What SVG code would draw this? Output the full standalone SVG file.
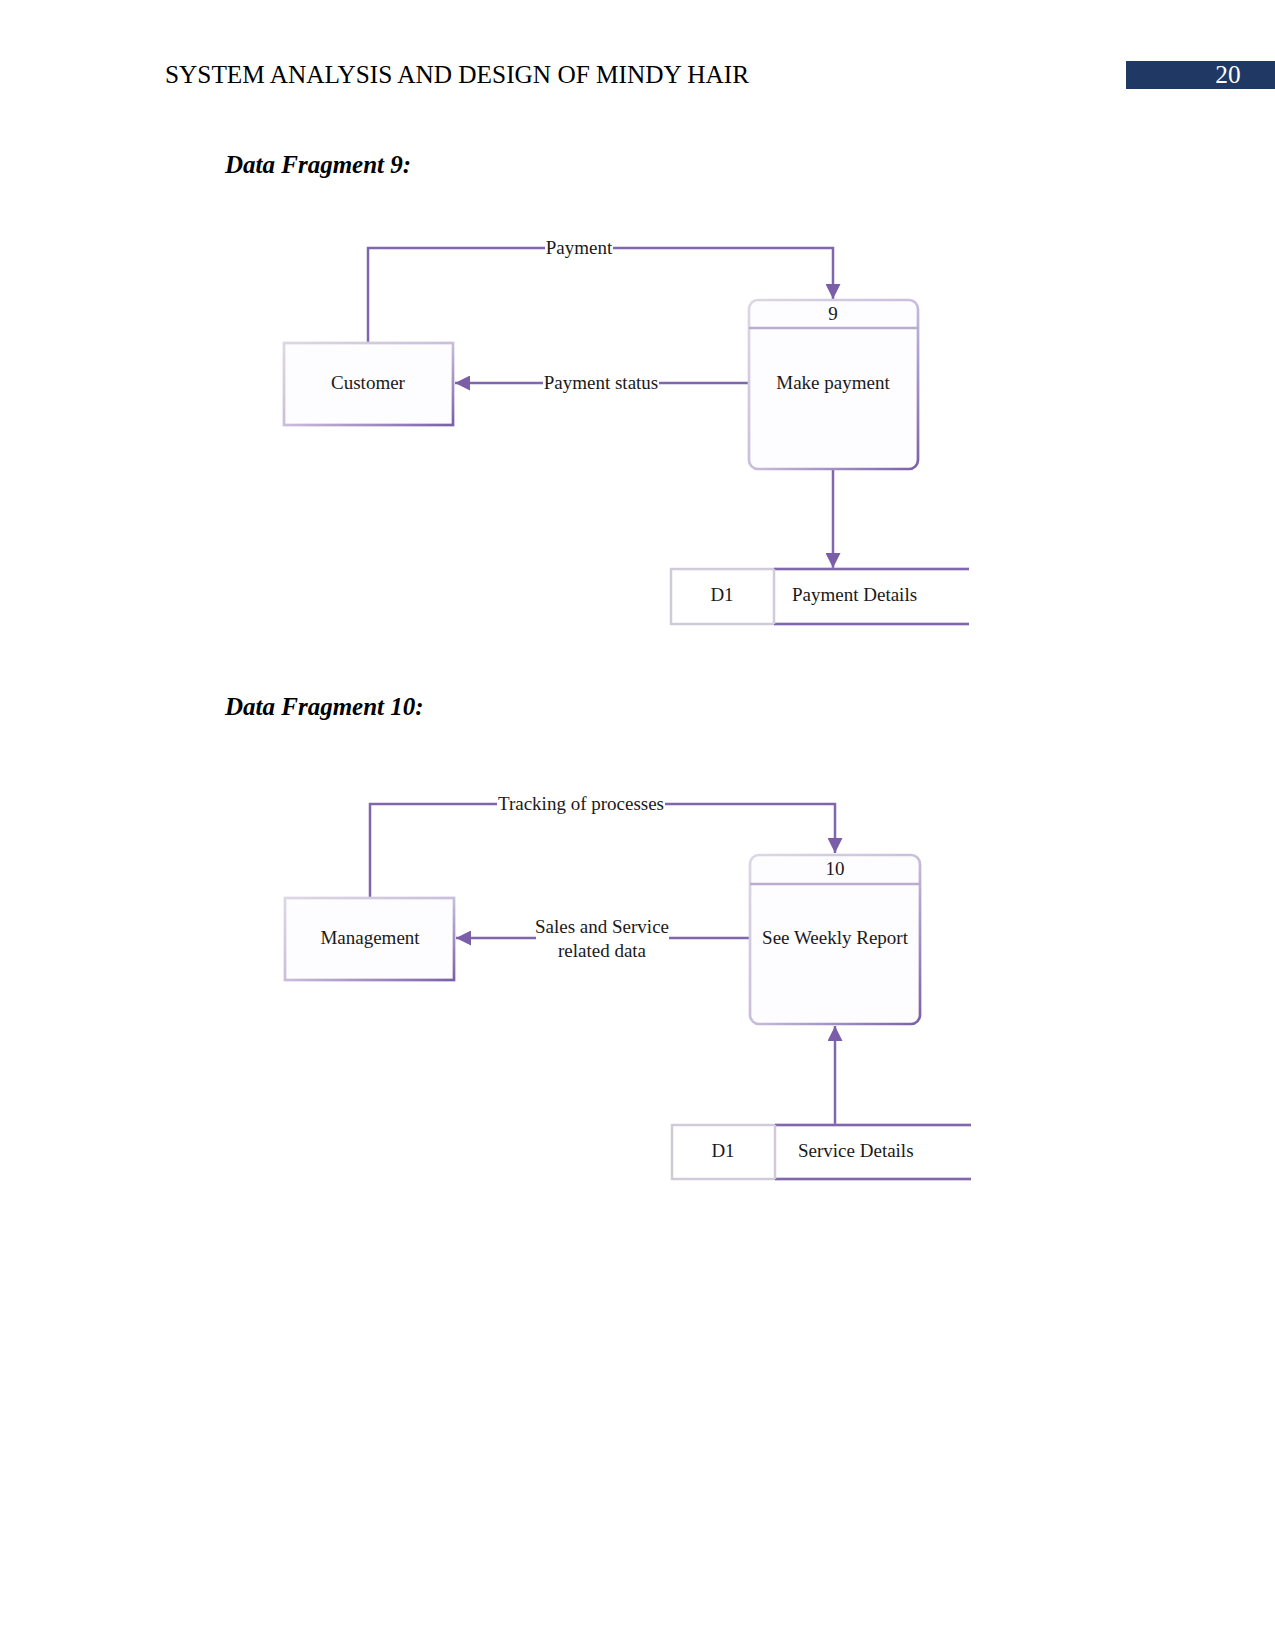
<svg xmlns="http://www.w3.org/2000/svg" width="1275" height="1650" viewBox="0 0 1275 1650">
<defs>
<style>
.hdr{font-family:"Liberation Serif","Times New Roman",serif;font-size:25.3px;fill:#000}
.ttl{font-family:"Liberation Serif","Times New Roman",serif;font-size:25px;font-weight:bold;font-style:italic;fill:#000}
.t{font-family:"Liberation Serif","Times New Roman",serif;font-size:19px;fill:#1a1a1a}
.lbl{font-family:"Liberation Serif","Times New Roman",serif;font-size:19px;fill:#1a1a1a}
.box{fill:#fdfcfe;stroke:url(#edge);stroke-width:2.7}
.ln{fill:none;stroke:#8066ad;stroke-width:2.5}
.lt{fill:none;stroke:#d0cad9;stroke-width:2.5}
</style>
<linearGradient id="edge" x1="0" y1="0" x2="1" y2="1">
<stop offset="0" stop-color="#dcd8e2"/>
<stop offset="0.5" stop-color="#c9bedc"/>
<stop offset="1" stop-color="#7a5fa8"/>
</linearGradient>
<marker id="arr" viewBox="0 0 10 10" refX="10" refY="5" markerWidth="6" markerHeight="6" orient="auto" markerUnits="strokeWidth">
<path d="M0,0 L10,5 L0,10 z" fill="#7a5fa8"/>
</marker>
</defs>
<rect width="1275" height="1650" fill="#fff"/>
<text class="hdr" x="165" y="83">SYSTEM ANALYSIS AND DESIGN OF MINDY HAIR</text>
<rect x="1126" y="61" width="149" height="28" fill="#1f3864"/>
<text class="hdr" x="1228" y="83" text-anchor="middle" style="fill:#fff">20</text>
<text class="ttl" x="225" y="173">Data Fragment 9:</text>
<text class="ttl" x="225" y="715">Data Fragment 10:</text>

<g id="connectors">
<path class="ln" d="M368,343 V248 H833 V299" marker-end="url(#arr)"/>
<path class="ln" d="M749,383 H455" marker-end="url(#arr)"/>
<path class="ln" d="M833,470 V568" marker-end="url(#arr)"/>
<path class="ln" d="M370,898 V804 H835 V853" marker-end="url(#arr)"/>
<path class="ln" d="M750,938 H456" marker-end="url(#arr)"/>
<path class="ln" d="M835,1125 V1026" marker-end="url(#arr)"/>
<rect x="545" y="237" width="68" height="22" fill="#fff"/>
<text class="lbl" x="579" y="254" text-anchor="middle">Payment</text>
<rect x="543" y="372" width="116" height="22" fill="#fff"/>
<text class="lbl" x="601" y="389" text-anchor="middle">Payment status</text>
<rect x="497" y="793" width="168" height="22" fill="#fff"/>
<text class="lbl" x="581" y="810" text-anchor="middle">Tracking of processes</text>
<rect x="536" y="912" width="133" height="50" fill="#fff"/>
<text class="lbl" x="602" y="933" text-anchor="middle">Sales and Service</text>
<text class="lbl" x="602" y="957" text-anchor="middle">related data</text>
</g>

<g id="customer">
<rect class="box" x="284" y="343" width="169" height="82"/>
<text class="t" x="368" y="389" text-anchor="middle">Customer</text>
</g>
<g id="process9">
<rect class="box" x="749" y="300" width="169" height="169" rx="9"/>
<line x1="749" y1="328" x2="918" y2="328" stroke="#b9acd0" stroke-width="2.5"/>
<text class="t" x="833" y="320" text-anchor="middle">9</text>
<text class="t" x="833" y="389" text-anchor="middle">Make payment</text>
</g>
<g id="store9">
<path class="lt" d="M969,569 H671 V624 H969"/>
<path class="ln" d="M774,569 H969 M774,624 H969"/>
<line x1="774" y1="569" x2="774" y2="624" stroke="#d0cad9" stroke-width="2.5"/>
<text class="t" x="722" y="601" text-anchor="middle">D1</text>
<text class="t" x="792" y="601">Payment Details</text>
</g>

<g id="management">
<rect class="box" x="285" y="898" width="169" height="82"/>
<text class="t" x="370" y="944" text-anchor="middle">Management</text>
</g>
<g id="process10">
<rect class="box" x="750" y="855" width="170" height="169" rx="9"/>
<line x1="750" y1="884" x2="920" y2="884" stroke="#b9acd0" stroke-width="2.5"/>
<text class="t" x="835" y="875" text-anchor="middle">10</text>
<text class="t" x="835" y="944" text-anchor="middle">See Weekly Report</text>
</g>
<g id="store10">
<path class="lt" d="M971,1125 H672 V1179 H971"/>
<path class="ln" d="M775,1125 H971 M775,1179 H971"/>
<line x1="775" y1="1125" x2="775" y2="1179" stroke="#d0cad9" stroke-width="2.5"/>
<text class="t" x="723" y="1157" text-anchor="middle">D1</text>
<text class="t" x="798" y="1157">Service Details</text>
</g>
</svg>
